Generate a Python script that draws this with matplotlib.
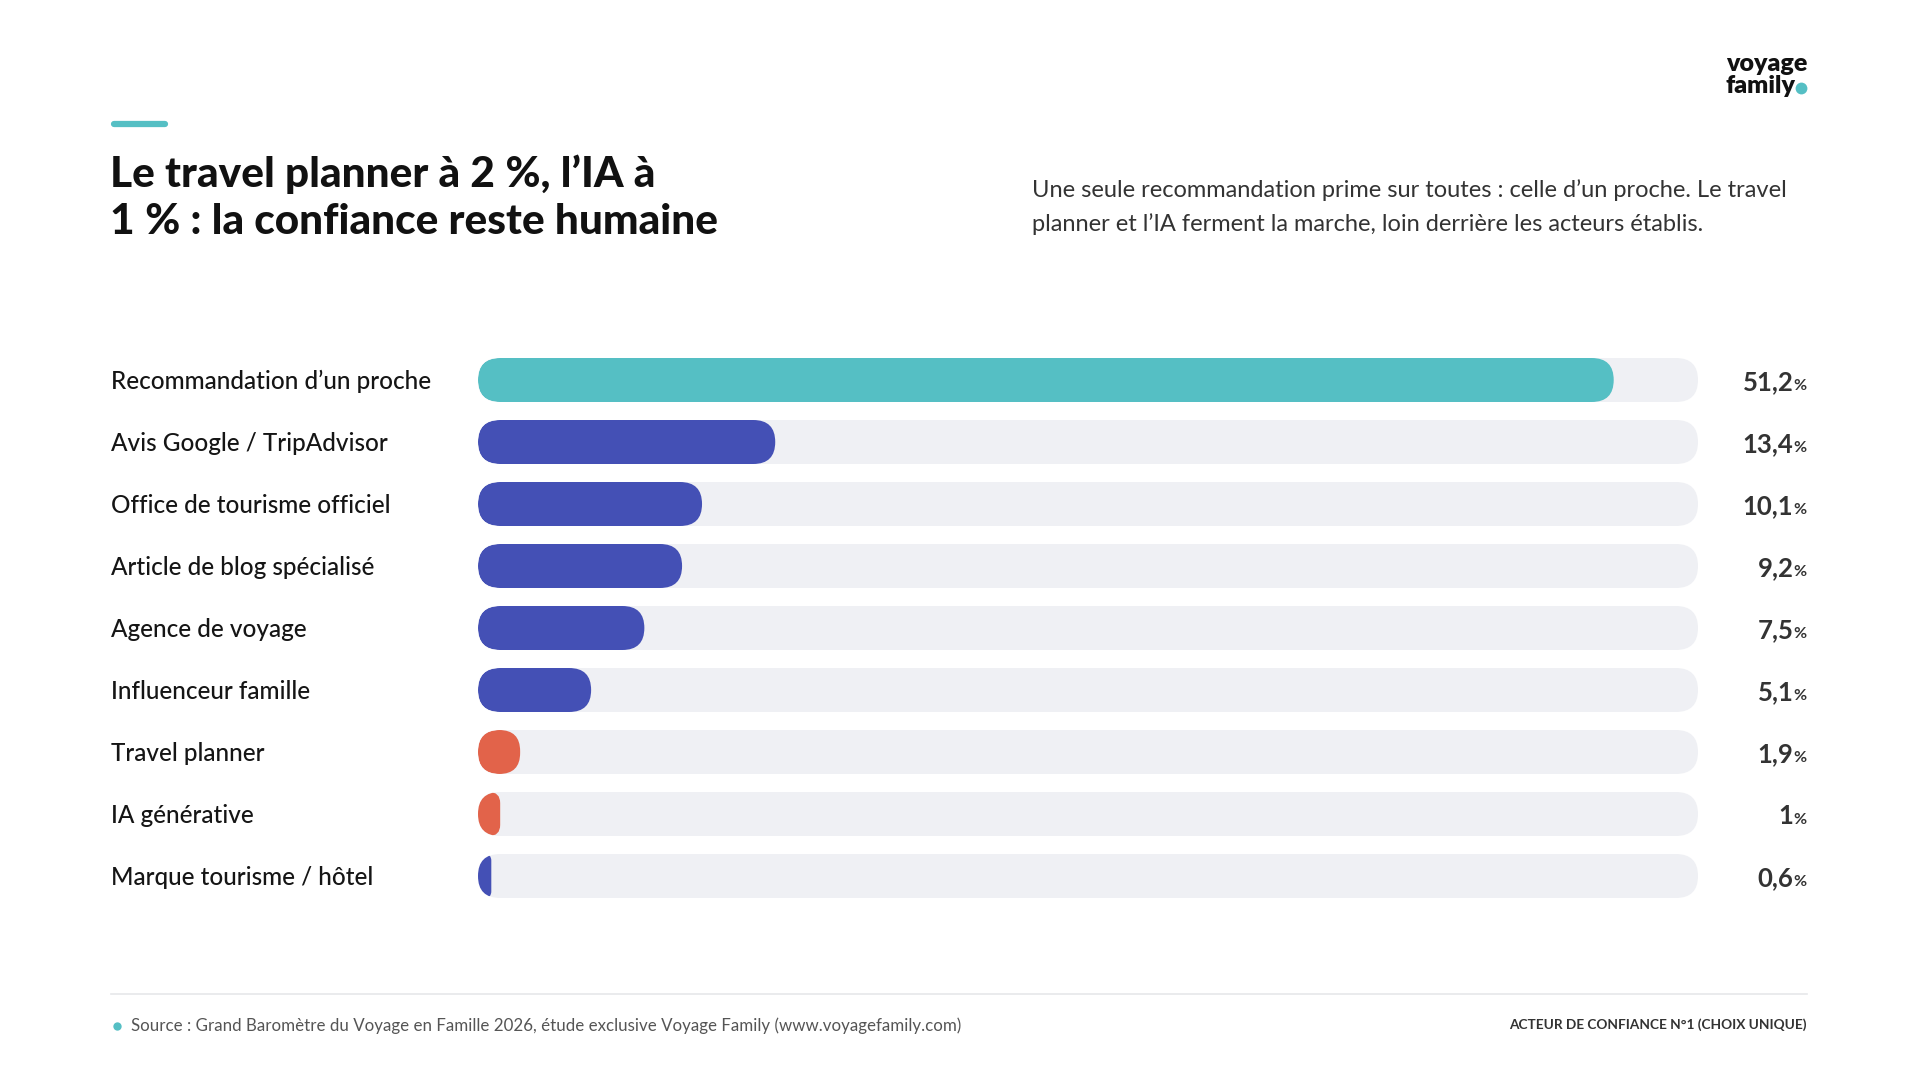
import matplotlib
matplotlib.use("Agg")
import matplotlib.pyplot as plt
from matplotlib.patches import FancyBboxPatch
from matplotlib.lines import Line2D
from matplotlib.transforms import offset_copy

plt.rcParams['font.family'] = ['Lato', 'DejaVu Sans']

# ---------------- data ----------------
categories = [
    "Recommandation d\u2019un proche",
    "Avis Google / TripAdvisor",
    "Office de tourisme officiel",
    "Article de blog sp\u00e9cialis\u00e9",
    "Agence de voyage",
    "Influenceur famille",
    "Travel planner",
    "IA g\u00e9n\u00e9rative",
    "Marque tourisme / h\u00f4tel",
]
values = [51.2, 13.4, 10.1, 9.2, 7.5, 5.1, 1.9, 1.0, 0.6]
value_labels = ["51,2", "13,4", "10,1", "9,2", "7,5", "5,1", "1,9", "1", "0,6"]
groups = ["top", "std", "std", "std", "std", "std", "new", "new", "std"]
scale_max = 55

title = "Le travel planner \u00e0 2\u202f%, l\u2019IA \u00e0\n1\u202f% : la confiance reste humaine"
subtitle = ("Une seule recommandation prime sur toutes : celle d\u2019un proche. Le travel\n"
            "planner et l\u2019IA ferment la marche, loin derri\u00e8re les acteurs \u00e9tablis.")
source = "Source : Grand Barom\u00e8tre du Voyage en Famille 2026, \u00e9tude exclusive Voyage Family (www.voyagefamily.com)"
note = "ACTEUR DE CONFIANCE N\u00b01 (CHOIX UNIQUE)"
logo = "voyage\nfamily"

# ---------------- style ----------------
TEAL = "#55BFC4"
BLUE = "#4450B5"
ORANGE = "#E2634A"
TRACK = "#EFF0F4"
colors = {"top": TEAL, "std": BLUE, "new": ORANGE}

W, H = 1920, 1080
fig = plt.figure(figsize=(W / 100, H / 100), dpi=100)
fig.patch.set_facecolor("white")

def fx(px):
    return px / W

def fy(py):
    return 1 - py / H

# axes for bars: track spans x 478..1698, row centers 380 + 62*i
ax_left, ax_right = 478, 1698
row_step = 62
first_center = 380
n = len(categories)
ax_top = first_center - row_step / 2
ax_bottom = first_center + row_step * (n - 1) + row_step / 2
ax = fig.add_axes([fx(ax_left), fy(ax_bottom), fx(ax_right - ax_left), (ax_bottom - ax_top) / H])
ax.set_xlim(0, scale_max)
ax.set_ylim(n - 0.5, -0.5)
ax.axis("off")

bar_h = 44 / row_step
x_per_px = scale_max / (ax_right - ax_left)
y_per_px = 1 / row_step
asp = y_per_px / x_per_px
r_full = 22 * x_per_px  # radius in x data units

for i, (cat, v, g) in enumerate(zip(categories, values, groups)):
    track = FancyBboxPatch((0, i - bar_h / 2), scale_max, bar_h,
                           boxstyle=f"round,pad=0,rounding_size={r_full}",
                           mutation_aspect=asp, facecolor=TRACK, edgecolor="none", zorder=1)
    ax.add_patch(track)
    rs = min(r_full, v / 2)
    bar = FancyBboxPatch((0, i - bar_h / 2), v, bar_h,
                         boxstyle=f"round,pad=0,rounding_size={rs}",
                         mutation_aspect=asp, facecolor=colors[g], edgecolor="none", zorder=2)
    ax.add_patch(bar)
    bar.set_clip_path(track)

    ax.text((111 - ax_left) / (ax_right - ax_left), i + 0.02, cat,
            transform=ax.get_yaxis_transform(), ha="left", va="center",
            fontsize=17.5, color="#151515", fontweight="medium")

fig.canvas.draw()
renderer = fig.canvas.get_renderer()
xr = (1807 - ax_left) / (ax_right - ax_left)
for i, lab in enumerate(value_labels):
    base = i + 0.16
    pct = ax.text(xr, base, "%", transform=ax.get_yaxis_transform(), ha="right",
                  va="baseline", fontsize=11.5, color="#333333", fontweight="bold")
    pct_w = pct.get_window_extent(renderer).width
    tr = offset_copy(ax.get_yaxis_transform(), fig=fig, x=-(pct_w + 0.5) * 72 / fig.dpi, y=0,
                     units="points")
    ax.text(xr, base, lab, transform=tr, ha="right", va="baseline",
            fontsize=18.5, color="#333333", fontweight="bold")

# accent line
fig.add_artist(Line2D([fx(114), fx(165)], [fy(124), fy(124)], color=TEAL, lw=4.5,
                      solid_capstyle="round"))

# title
fig.text(fx(110), fy(198), title, ha="left", va="center", fontsize=30.5, fontweight="black",
         color="#111111", linespacing=1.28)

# subtitle
fig.text(fx(1032), fy(207), subtitle, ha="left", va="center", fontsize=17, color="#333333",
         linespacing=1.68)

# logo
fig.text(fx(1726), fy(75), logo, ha="left", va="center", fontsize=18, fontweight="heavy",
         color="#111111", linespacing=0.95)
fig.add_artist(Line2D([fx(1801)], [fy(88)], marker="o", markersize=8.5, color=TEAL,
                      markeredgewidth=0))

# footer
fig.add_artist(Line2D([fx(111), fx(1807)], [fy(994), fy(994)], color="#E6E7EA", lw=1.2))
fig.add_artist(Line2D([fx(117)], [fy(1026)], marker="o", markersize=6, color=TEAL,
                      markeredgewidth=0))
fig.text(fx(131), fy(1026), source, ha="left", va="center", fontsize=12.2, color="#555555")
fig.text(fx(1807), fy(1025), note, ha="right", va="center", fontsize=9.8, fontweight="bold",
         color="#333333")

fig.savefig("out.png", dpi=100, facecolor="white")
